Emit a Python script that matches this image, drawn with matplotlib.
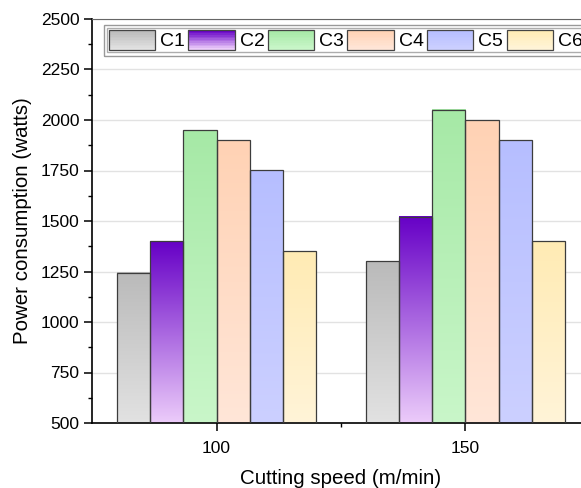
import numpy as np
import matplotlib
matplotlib.use("Agg")
import matplotlib.pyplot as plt
from matplotlib.colors import LinearSegmentedColormap
from matplotlib.legend_handler import HandlerBase
from matplotlib.patches import Rectangle, Patch
from matplotlib.ticker import MultipleLocator

plt.rcParams['font.family'] = ['Liberation Sans', 'DejaVu Sans']

speeds = [100, 150]
series = ["C1", "C2", "C3", "C4", "C5", "C6"]
values = {
    "C1": [1245, 1300],
    "C2": [1400, 1520],
    "C3": [1950, 2050],
    "C4": [1900, 2000],
    "C5": [1750, 1900],
    "C6": [1350, 1400],
}
# (top colour, bottom colour)
grad_colors = {
    "C1": ("#bababa", "#e2e2e2"),
    "C2": ("#6600c6", "#ecccfa"),
    "C3": ("#a6e9a6", "#c9f6c9"),
    "C4": ("#ffd2b4", "#ffe6d8"),
    "C5": ("#b6beff", "#ccd0ff"),
    "C6": ("#ffebb4", "#fff4d8"),
}

W, H = 581, 488
fig = plt.figure(figsize=(W / 100, H / 100), dpi=100)
L, R, T, B = 92, 590, 19, 423
ax = fig.add_axes([L / W, 1 - B / H, (R - L) / W, (B - T) / H])

bw = 40 / 6

cmaps = {s: LinearSegmentedColormap.from_list(s, [grad_colors[s][1], grad_colors[s][0]]) for s in series}
grad = np.linspace(0, 1, 256).reshape(-1, 1)

for i, s in enumerate(series):
    offs = (i - 2.5) * bw
    xs = [sp + offs for sp in speeds]
    bars = ax.bar(xs, [v - 500 for v in values[s]], width=bw, bottom=500,
                  facecolor='none', edgecolor='#3c3c3c', linewidth=0.9, zorder=3)
    for b in bars:
        x0, y0 = b.get_x(), b.get_y()
        w, h = b.get_width(), b.get_height()
        ax.imshow(grad, cmap=cmaps[s], extent=(x0, x0 + w, y0, y0 + h),
                  origin='lower', aspect='auto', zorder=2, interpolation='bilinear')

ax.set_xlim(75, 175)
ax.set_ylim(500, 2500)

ax.yaxis.set_major_locator(MultipleLocator(250))
ax.yaxis.set_minor_locator(MultipleLocator(125))
ax.set_xticks(speeds)
ax.set_xticks([125], minor=True)
ax.grid(axis='y', color='#e2e2e2', linewidth=1.0, zorder=0)
ax.set_axisbelow(True)
ax.tick_params(axis='y', which='major', labelsize=12.5, length=5.5, width=1.1, pad=3.5, direction='out')
ax.tick_params(axis='x', which='major', labelsize=12.5, length=5.5, width=1.1, pad=7.5, direction='out')
ax.tick_params(axis='both', which='minor', length=3, width=1.0, direction='out')
for sp in ['left', 'bottom']:
    ax.spines[sp].set_linewidth(1.2)
ax.spines['top'].set_color('#666666')

ax.set_ylabel("Power consumption (watts)", fontsize=14.8, labelpad=6)
ax.set_xlabel("Cutting speed (m/min)", fontsize=14.8, labelpad=9.5)


class GradHandler(HandlerBase):
    def __init__(self, top, bottom):
        super().__init__()
        self.top = top
        self.bottom = bottom

    def create_artists(self, legend, orig_handle, xdescent, ydescent, width, height, fontsize, trans):
        cmap = LinearSegmentedColormap.from_list('h', [self.bottom, self.top])
        n = 12
        arts = []
        for k in range(n):
            r = Rectangle((-xdescent, -ydescent + height * k / n), width, height / n + 0.3,
                          facecolor=cmap(k / (n - 1)), edgecolor='none', transform=trans)
            arts.append(r)
        arts.append(Rectangle((-xdescent, -ydescent), width, height, facecolor='none',
                              edgecolor='#444444', linewidth=0.9, transform=trans))
        return arts


handles = [Patch(label=s) for s in series]
hmap = {h: GradHandler(grad_colors[s][0], grad_colors[s][1]) for h, s in zip(handles, series)}
leg = fig.legend(handles=handles, labels=series, handler_map=hmap, ncol=6,
                 loc='upper left', bbox_to_anchor=(107 / W, 1 - 28 / H),
                 bbox_transform=fig.transFigure, fontsize=14, frameon=True,
                 fancybox=False, edgecolor='#999999', borderpad=0.1,
                 handlelength=2.37, handleheight=1.19, handletextpad=0.27,
                 columnspacing=0.17, borderaxespad=0)
leg.get_frame().set_linewidth(1.0)

# outer frame of the double-line legend border
fig.canvas.draw()
bb = leg.get_window_extent()
pad = 3.5
outer = Rectangle(((bb.x0 - pad) / W, (bb.y0 - pad) / H), (bb.width + 2 * pad) / W,
                  (bb.height + 2 * pad) / H, transform=fig.transFigure, facecolor='none',
                  edgecolor='#999999', linewidth=1.0, zorder=10)
fig.add_artist(outer)

fig.savefig("out.png", dpi=100)
